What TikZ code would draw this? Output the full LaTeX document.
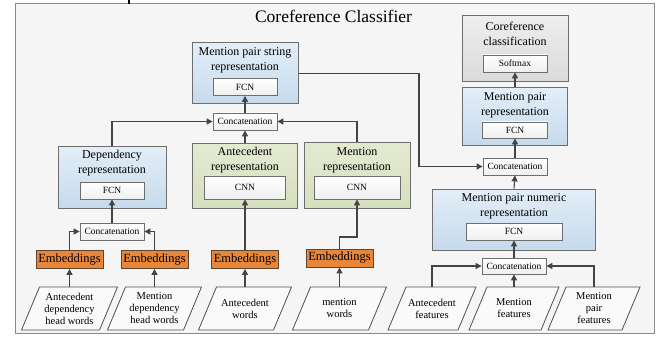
\documentclass[tikz,border=0pt]{standalone}
\usepackage{fontspec}
\setmainfont{Liberation Serif}
\usetikzlibrary{arrows.meta,calc}
\definecolor{linec}{HTML}{444444}
\definecolor{boxb}{HTML}{6E6E6E}
\definecolor{blueT}{HTML}{E3EEF8}
\definecolor{blueB}{HTML}{C6DAEC}
\definecolor{greenT}{HTML}{E4EAD2}
\definecolor{greenB}{HTML}{D6DFBD}
\definecolor{grayT}{HTML}{EEEEEE}
\definecolor{grayB}{HTML}{DADADA}
\definecolor{innerB}{HTML}{EFEFEF}
\definecolor{embF}{HTML}{E8873A}
\definecolor{embB}{HTML}{5E4530}
\definecolor{frameF}{HTML}{F5F5F5}
\definecolor{frameB}{HTML}{8A8A8A}
\definecolor{paraF}{HTML}{FAFAFA}
\definecolor{paraB}{HTML}{505050}
\tikzset{
 outer/.style={draw=boxb,line width=1pt,inner sep=0pt},
 bluebox/.style={outer,top color=blueT,bottom color=blueB},
 greenbox/.style={outer,top color=greenT,bottom color=greenB},
 graybox/.style={outer,top color=grayT,bottom color=grayB},
 innerbox/.style={draw=boxb,line width=0.8pt,top color=white,bottom color=innerB,inner sep=0pt,font=\fontsize{9.5}{11}\selectfont},
 titletext/.style={align=center,inner sep=0pt,font=\fontsize{12}{15}\selectfont},
 embbox/.style={draw=embB,line width=0.9pt,fill=embF,inner sep=0pt,minimum width=67pt,minimum height=18pt,font=\fontsize{12.5}{14}\selectfont},
 intext/.style={align=center,inner sep=0pt,minimum height=43pt,font=\fontsize{10.5}{12}\selectfont},
 parab/.style={draw=paraB,line width=0.8pt,fill=paraF},
 arr/.style={draw=linec,line width=1.1pt,-{Triangle[length=6pt,width=6pt]}},
 ln/.style={draw=linec,line width=1.1pt},
}
\newcommand{\inpara}[5]{%
 \filldraw[parab] ({#2-#4/2-9},{#3+21.5}) -- ({#2+#4/2-9},{#3+21.5}) -- ({#2+#4/2+9},{#3-21.5}) -- ({#2-#4/2+9},{#3-21.5}) -- cycle;
 \node[intext,minimum width=#4pt] (#1) at (#2,#3) {#5};
}
\begin{document}
\begin{tikzpicture}[x=1pt,y=-1pt]
\useasboundingbox (0,0) rectangle (662,337);
% frame
\filldraw[draw=frameB,line width=1pt,fill=frameF] (15,4) rectangle (654,333);
\draw[line width=1.6pt,black] (129,0) -- (129,4);
\node[inner sep=0pt,font=\fontsize{17.5}{20}\selectfont] (title) at (333.5,16.5) {Coreference Classifier};

% Mention pair string representation
\node[bluebox,minimum width=106pt,minimum height=61pt] (mps) at (245,73.5) {};
\node[titletext] (mpsT) at (245,60.5) {Mention pair string\\representation};
\node[innerbox,minimum width=64pt,minimum height=17pt] (mpsF) at (245,87) {FCN};
\node[innerbox,minimum width=64pt,minimum height=17pt] (c1) at (245,121.5) {Concatenation};

% Dependency representation
\node[bluebox,minimum width=108pt,minimum height=62pt] (dep) at (112,177) {};
\node[titletext] (depT) at (112,163.5) {Dependency\\representation};
\node[innerbox,minimum width=64pt,minimum height=17pt] (depF) at (112,190.5) {FCN};
\node[innerbox,minimum width=64pt,minimum height=17pt] (c2) at (112,231.5) {Concatenation};

% Antecedent representation
\node[greenbox,minimum width=105pt,minimum height=65pt] (ant) at (245,175.5) {};
\node[titletext] (antT) at (245,160.5) {Antecedent\\representation};
\node[innerbox,minimum width=81pt,minimum height=23pt] (antC) at (245,187.5) {CNN};

% Mention representation
\node[greenbox,minimum width=106pt,minimum height=66pt] (men) at (357,175) {};
\node[titletext] (menT) at (357,160) {Mention\\representation};
\node[innerbox,minimum width=86pt,minimum height=23pt] (menC) at (357,187.5) {CNN};

% Embeddings
\node[embbox] (e1) at (69.5,259.5) {Embeddings};
\node[embbox] (e2) at (154.5,259.5) {Embeddings};
\node[embbox] (e3) at (245,259.5) {Embeddings};
\node[embbox] (e4) at (339.5,258) {Embeddings};

% Right column
\node[graybox,minimum width=106pt,minimum height=66pt] (cc) at (515,49) {};
\node[titletext] (ccT) at (515,34) {Coreference\\classification};
\node[innerbox,minimum width=64pt,minimum height=17pt] (ccS) at (515,63.5) {Softmax};

\node[bluebox,minimum width=105pt,minimum height=57pt] (mpr) at (515,116.5) {};
\node[titletext] (mprT) at (515,105) {Mention pair\\representation};
\node[innerbox,minimum width=65pt,minimum height=16pt] (mprF) at (515,130) {FCN};
\node[innerbox,minimum width=64pt,minimum height=17pt] (c3) at (515,166.5) {Concatenation};

\node[bluebox,minimum width=163pt,minimum height=61pt] (mpn) at (514,219.5) {};
\node[titletext] (mpnT) at (514,206) {Mention pair numeric\\representation};
\node[innerbox,minimum width=96pt,minimum height=17pt] (mpnF) at (514,231.5) {FCN};
\node[innerbox,minimum width=64pt,minimum height=16pt] (c4) at (514,266) {Concatenation};

% inputs
\inpara{p1}{69.5}{308.5}{78}{Antecedent\\dependency\\head words}
\inpara{p2}{154.5}{308.5}{76}{Mention\\dependency\\head words}
\inpara{p3}{245}{308.5}{75}{Antecedent\\words}
\inpara{p4}{339.5}{308.5}{76}{mention\\words}
\inpara{p5}{432}{308.5}{70}{Antecedent\\features}
\inpara{p6}{514}{308.5}{72}{Mention\\features}
\inpara{p7}{594}{308.5}{74}{Mention\\pair\\features}

% connectors
\draw[arr] (p1.north) -- (e1.south);
\draw[arr] (p2.north) -- (e2.south);
\draw[arr] (p3.north) -- (e3.south);
\draw[arr] (p4.north) -- (e4.south);
\draw[arr] (e1.north) |- (c2.west);
\draw[arr] (e2.north) |- (c2.east);
\draw[arr] (c2.north) -- (depF.south);
\draw[arr] (e3.north) -- (antC.south);
\coordinate (m4) at (339.5,237);
\draw[arr] (e4.north) -- (m4) -| (menC.south);
\draw[arr] (dep.north) |- (c1.west);
\draw[arr] (ant.north) -- (c1.south);
\draw[arr] (men.north) |- (c1.east);
\draw[arr] (c1.north) -- (mpsF.south);
\coordinate (bend) at (419,73.5);
\draw[arr] (mps.east) -- (bend) |- (c3.west);
\draw[arr] (p5.north) |- (c4.west);
\draw[arr] (p7.north) |- (c4.east);
\draw[arr] (p6.north) -- (c4.south);
\draw[arr] (c4.north) -- (mpnF.south);
\draw[arr] (mpn.north) -- (c3.south);
\draw[arr] (c3.north) -- (mprF.south);
\draw[arr] (mpr.north) -- (ccS.south);
\end{tikzpicture}
\end{document}
